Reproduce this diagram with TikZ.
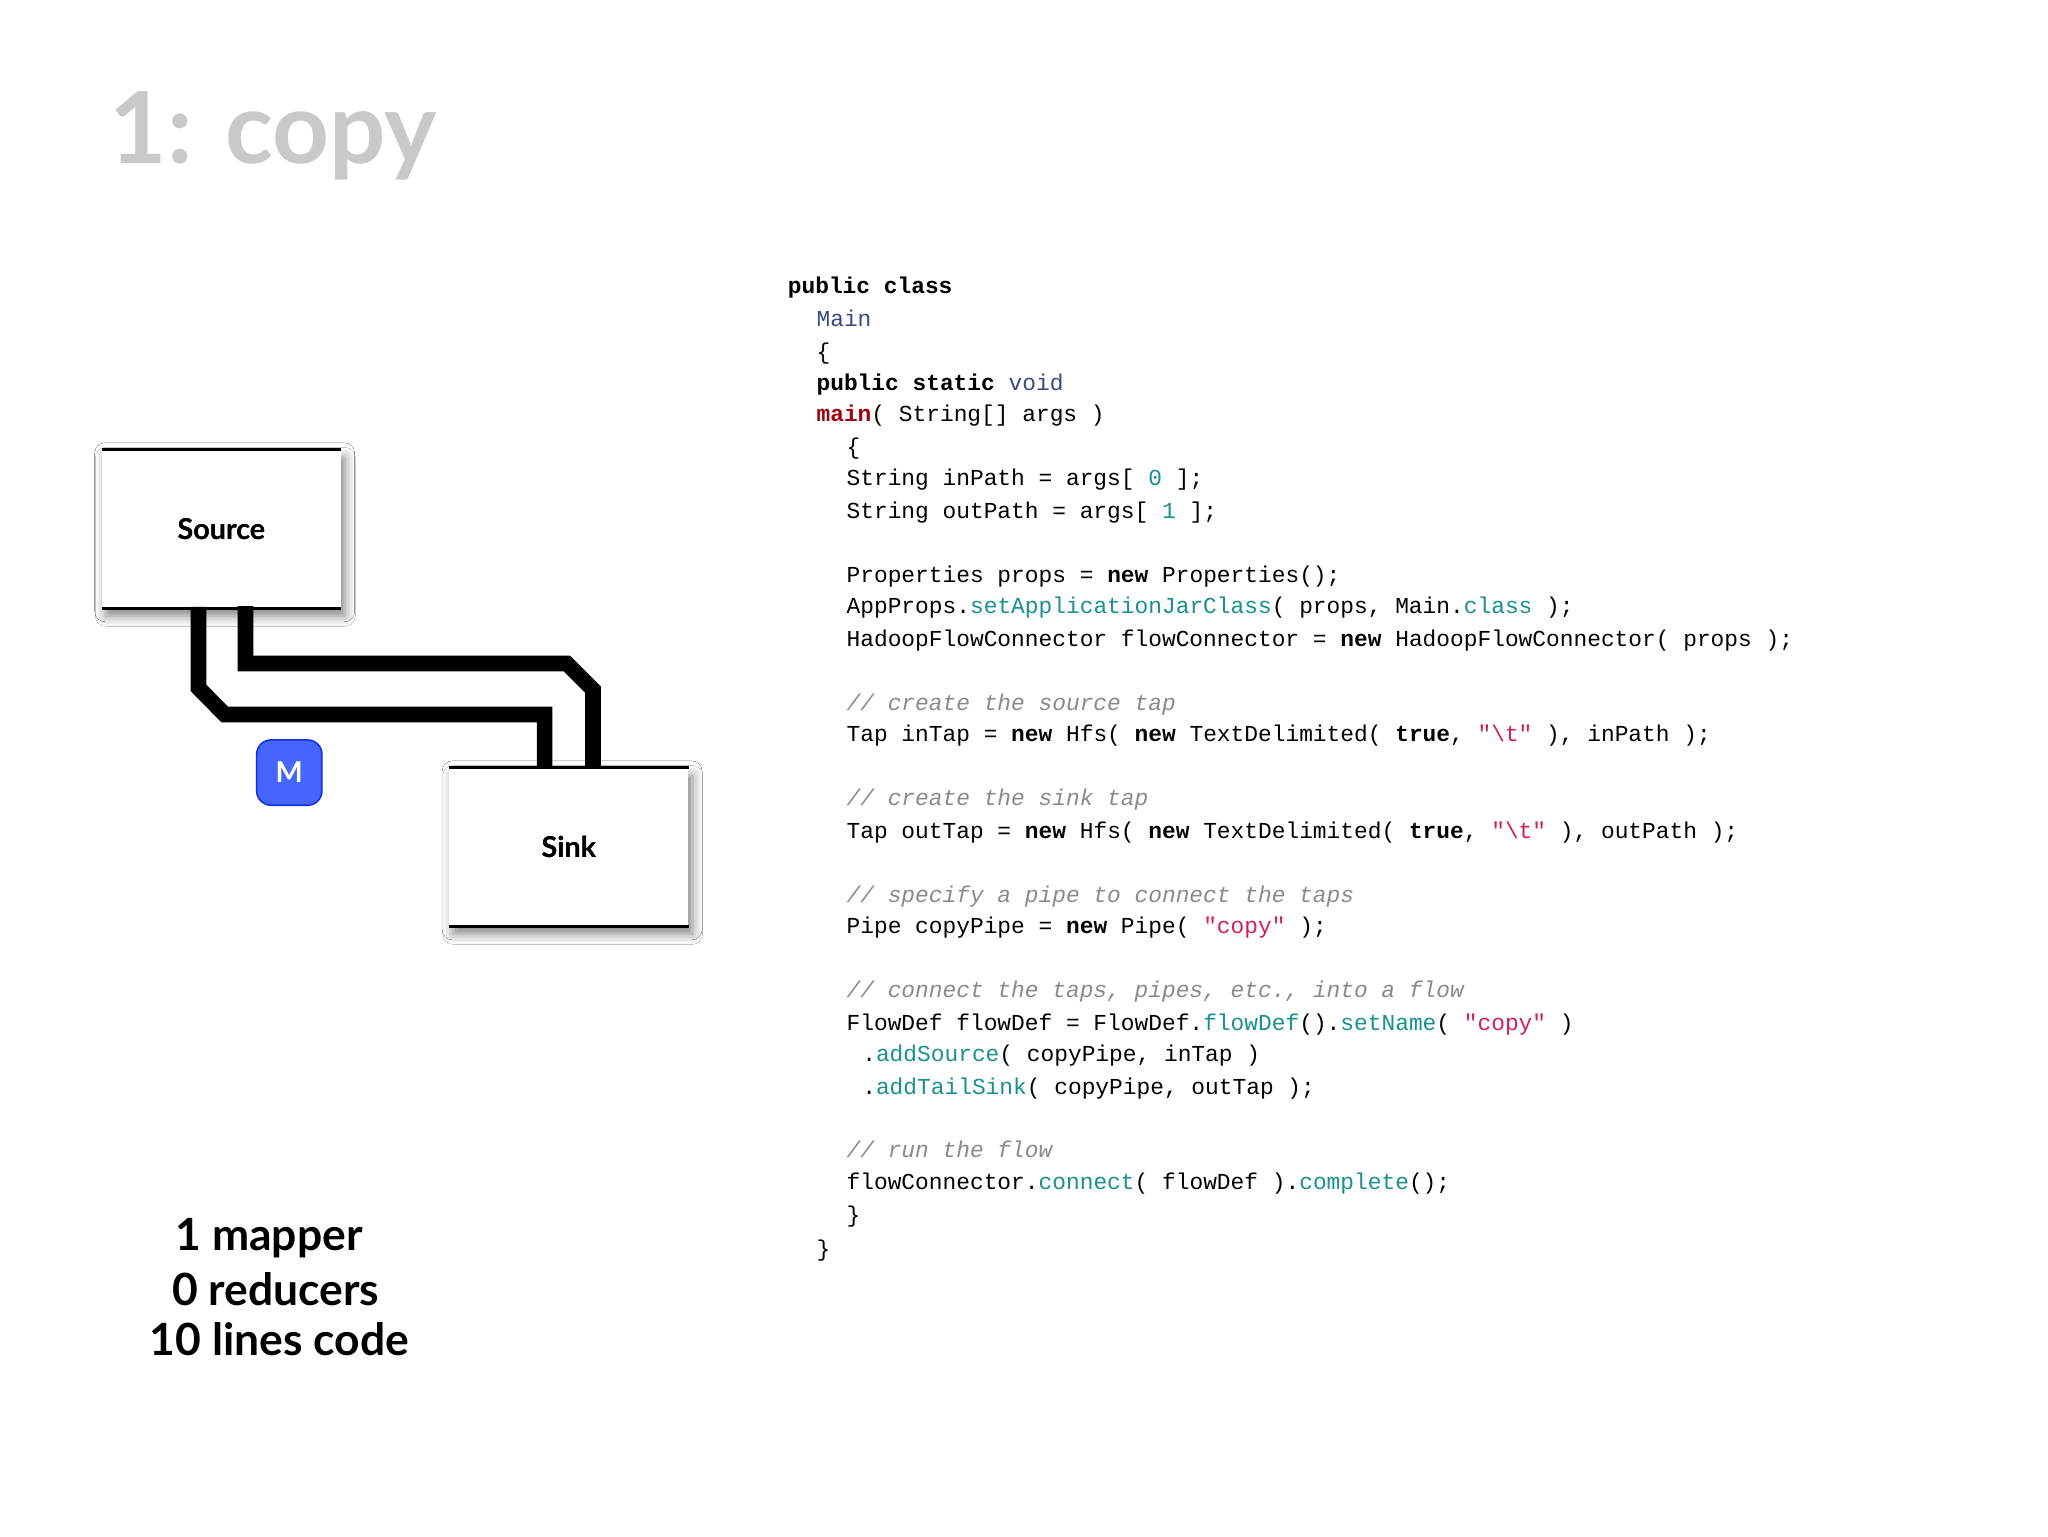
\documentclass[tikz,border=0pt]{standalone}
\usepackage{fontspec}
\setmainfont{Lato}
\setmonofont{Liberation Mono}
\usetikzlibrary{shadows.blur}
\definecolor{kwnavy}{HTML}{3A4A80}
\definecolor{kwred}{HTML}{A00010}
\definecolor{teal}{HTML}{1A9090}
\definecolor{strc}{HTML}{D0205A}
\definecolor{cmt}{HTML}{8A8A8A}
\definecolor{mblue}{HTML}{4466FF}
\definecolor{mborder}{HTML}{1133DD}
\newcommand{\kw}[1]{\textbf{#1}}
\newcommand{\cn}[1]{\textcolor{kwnavy}{#1}}
\newcommand{\rd}[1]{\textcolor{kwred}{\textbf{#1}}}
\newcommand{\tl}[1]{\textcolor{teal}{#1}}
\newcommand{\st}[1]{\textcolor{strc}{#1}}
\newcommand{\cm}[1]{\textcolor{cmt}{\itshape #1}}
\begin{document}
\begin{tikzpicture}[x=1pt,y=-1pt,
  code/.style={anchor=base west,inner sep=0pt,font=\fontsize{17.5}{20}\ttfamily},
  tank/.style={fill=white,minimum width=183pt,minimum height=121pt,inner sep=0pt,
     font=\fontsize{22}{26}\selectfont\bfseries,
     blur shadow={shadow xshift=3pt,shadow yshift=-6pt,shadow blur radius=8pt,shadow opacity=50}},
  pipe/.style={line width=12pt,line join=miter},
  big/.style={font=\fontsize{34}{38}\selectfont\bfseries,inner sep=0pt}]
\useasboundingbox (0,0) rectangle (1568,1176);
\fill[white] (0,0) rectangle (1568,1176);
\node[anchor=base west,inner sep=0pt,text=black!21,font=\fontsize{76}{80}\selectfont\bfseries] (title) at (84,125) {1: copy};
% pipes
\node[tank] (src) at (169.5,405) {Source};
\node[tank] (snk) at (435.5,648.5) {Sink};
\draw[pipe] (src.south)++(-17.5,-1) coordinate (a1) -- ++(0,62) -- (172,547) -- (417,547) -- (417,588) coordinate (a2);
\draw[pipe] (188,464) coordinate (b1) -- (188,508) -- (434,508) -- (454,528) -- (454,588) coordinate (b2);
\node[tank,fill=none,blur shadow={shadow opacity=0}] (src2) at (169.5,405) {Source};
\node[tank,fill=none,blur shadow={shadow opacity=0}] (snk2) at (435.5,648.5) {Sink};
\draw[line width=2pt] (src.north west) -- (src.north east);
\draw[line width=2pt] (src.south west) -- (src.south east);
\draw[line width=2pt] (snk.north west) -- (snk.north east);
\draw[line width=2pt] (snk.south west) -- (snk.south east);
\node[fill=mblue,draw=mborder,line width=1.2pt,rounded corners=11pt,minimum width=50pt,minimum height=50pt,text=white,font=\fontsize{22}{26}\selectfont\bfseries] (m) at (221.5,591.5) {M};
% bottom text
\node[big] (t1) at (206,948) {1 mapper};
\node[big] (t2) at (211,987) {0 reducers};
\node[big] (t3) at (214,1025) {10 lines code};
% code
\node[code] (c1) at (603,225) {\kw{public class}};
\node[code] (c2) at (625,250) {\cn{Main}};
\node[code] (c3) at (625,275) {\{};
\node[code] (c4) at (625,299) {\kw{public static} \cn{void}};
\node[code] (c5) at (625,323) {\rd{main}( String[] args )};
\node[code] (c6) at (648,348) {\{};
\node[code] (c7) at (648,372) {String inPath = args[ \tl{0} ];};
\node[code] (c8) at (648,397) {String outPath = args[ \tl{1} ];};
\node[code] (c9) at (648,446) {Properties props = \kw{new} Properties();};
\node[code] (c10) at (648,470) {AppProps.\tl{setApplicationJarClass}( props, Main.\tl{class} );};
\node[code] (c11) at (648,495) {HadoopFlowConnector flowConnector = \kw{new} HadoopFlowConnector( props );};
\node[code] (c12) at (648,544) {\cm{// create the source tap}};
\node[code] (c13) at (648,568) {Tap inTap = \kw{new} Hfs( \kw{new} TextDelimited( \kw{true}, \st{"\textbackslash t"} ), inPath );};
\node[code] (c14) at (648,617) {\cm{// create the sink tap}};
\node[code] (c15) at (648,642) {Tap outTap = \kw{new} Hfs( \kw{new} TextDelimited( \kw{true}, \st{"\textbackslash t"} ), outPath );};
\node[code] (c16) at (648,691) {\cm{// specify a pipe to connect the taps}};
\node[code] (c17) at (648,715) {Pipe copyPipe = \kw{new} Pipe( \st{"copy"} );};
\node[code] (c18) at (648,764) {\cm{// connect the taps, pipes, etc., into a flow}};
\node[code] (c19) at (648,789) {FlowDef flowDef = FlowDef.\tl{flowDef}().\tl{setName}( \st{"copy"} )};
\node[code] (c20) at (660,813) {.\tl{addSource}( copyPipe, inTap )};
\node[code] (c21) at (660,838) {.\tl{addTailSink}( copyPipe, outTap );};
\node[code] (c22) at (648,886) {\cm{// run the flow}};
\node[code] (c23) at (648,911) {flowConnector.\tl{connect}( flowDef ).\tl{complete}();};
\node[code] (c24) at (648,936) {\}};
\node[code] (c25) at (625,962) {\}};
\end{tikzpicture}
\end{document}
